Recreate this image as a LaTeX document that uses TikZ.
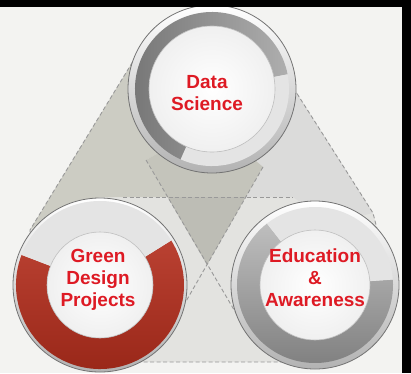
\documentclass[tikz,border=0pt]{standalone}
\usepackage{fontspec}
\setmainfont{Liberation Sans}
\usetikzlibrary{positioning}
\definecolor{paper}{HTML}{F3F3F1}
\definecolor{txtred}{HTML}{DE1A24}
\definecolor{bandred}{HTML}{B22C1B}
\definecolor{bandgray}{HTML}{939393}
\definecolor{lightband}{HTML}{E4E4E4}
\definecolor{basefill}{HTML}{E3E3E0}
\definecolor{leftwing}{HTML}{CCCCC3}
\definecolor{rightwing}{HTML}{DBDBDA}
\definecolor{coneup}{HTML}{C4C4BB}
\definecolor{conelow}{HTML}{BDBDB5}
\tikzstyle{bezel} = [top color=white, bottom color=black!30, draw=black!55, line width=0.8pt]
\tikzstyle{disc} = [inner color=white, outer color=black!6, draw=black!25, line width=0.6pt]
\tikzstyle{ringtext} = [font=\bfseries\fontsize{19}{22}\selectfont, text=txtred, align=center]
\tikzstyle{seam} = [draw=black!40, line width=0.9pt, dash pattern=on 4pt off 2.5pt]

\begin{document}
\begin{tikzpicture}[x=1pt, y=1pt]

  \useasboundingbox (0,0) rectangle (411,373);
  \fill[paper] (0,0) rectangle (411,373);

  \coordinate (greenc) at (100,88);
  \coordinate [right=215pt of greenc] (educ);
  \coordinate (datac) at (212,284);

  \coordinate (ltop) at (146,333);
  \coordinate (peak) at (212,343);
  \coordinate (rtop) at (282,303);
  \coordinate (rbot) at (373,160);
  \coordinate (rfoot) at (385,113);
  \coordinate (br) at (340,11);
  \coordinate (bl) at (64,11);
  \coordinate (lfoot) at (32,73);
  \coordinate (lbot) at (30,143);
  \coordinate (core) at (212,250);
  \coordinate (aup) at (146,213);
  \coordinate (bup) at (263,206);
  \coordinate (apex) at (207,108);
  \coordinate (adown) at (240,53);
  \coordinate (bdown) at (181,63);
  \coordinate (across) at (167.5,176);
  \coordinate (bcross) at (245.8,176);
  \coordinate (hleft) at (123,176);
  \coordinate (hright) at (293,176);

  \fill[basefill] (ltop) -- (peak) -- (rtop) -- (rbot) -- (rfoot) -- (br) -- (bl) -- (lfoot) -- (lbot) -- cycle;
  \fill[leftwing] (ltop) -- (lbot) -- (55,163) -- (100,176) -- (across) -- (aup) -- (core) -- cycle;
  \fill[rightwing] (core) -- (rtop) -- (rbot) -- (330,150) -- (hright) -- (bcross) -- (bup) -- cycle;
  \fill[coneup] (aup) -- (core) -- (bup) -- (bcross) -- (across) -- cycle;
  \fill[conelow] (across) -- (bcross) -- (apex) -- cycle;

  \draw[seam] (ltop) -- (lbot) -- (lfoot) -- (bl) -- (br) -- (rfoot) -- (rbot) -- (rtop);
  \draw[seam] (aup) -- (adown);
  \draw[seam] (bup) -- (bdown);
  \draw[seam] (hleft) -- (hright);

  \begin{scope}[shift={(datac)}]
    \shade[bezel] (0,0) circle (84);
    \shade[left color=bandgray!80!black, right color=bandgray!75] (11:77) arc[start angle=11, end angle=246, radius=77] -- (246:63) arc[start angle=246, end angle=11, radius=63] -- cycle;
    \fill[lightband] (246:77) arc[start angle=246, end angle=371, radius=77] -- (371:63) arc[start angle=371, end angle=246, radius=63] -- cycle;
    \shade[disc] (0,0) circle (63);
  \end{scope}

  \begin{scope}[shift={(greenc)}]
    \shade[bezel] (0,0) circle (87);
    \shade[top color=bandred!90!white, bottom color=bandred!85!black] (159:84) arc[start angle=159, end angle=392, radius=84] -- (392:53) arc[start angle=392, end angle=159, radius=53] -- cycle;
    \fill[lightband] (32:84) arc[start angle=32, end angle=159, radius=84] -- (159:53) arc[start angle=159, end angle=32, radius=53] -- cycle;
    \shade[disc] (0,0) circle (53);
  \end{scope}

  \begin{scope}[shift={(educ)}]
    \shade[bezel] (0,0) circle (84);
    \shade[top color=bandgray!60, bottom color=bandgray!85!black] (128:78) arc[start angle=128, end angle=364, radius=78] -- (364:55) arc[start angle=364, end angle=128, radius=55] -- cycle;
    \fill[lightband] (4:78) arc[start angle=4, end angle=128, radius=78] -- (128:55) arc[start angle=128, end angle=4, radius=55] -- cycle;
    \shade[disc] (0,0) circle (55);
  \end{scope}

  \node (data) [ringtext, xshift=-5pt, yshift=-4pt] at (datac) {Data\\Science};
  \node (green) [ringtext, xshift=-2pt, yshift=5pt] at (greenc) {Green\\Design\\Projects};
  \node (edu) [ringtext, yshift=7pt] at (educ) {Education\\\&\\Awareness};

  \fill[black] (0,366) rectangle (411,373);
  \fill[black] (402,0) rectangle (411,373);

\end{tikzpicture}
\end{document}
